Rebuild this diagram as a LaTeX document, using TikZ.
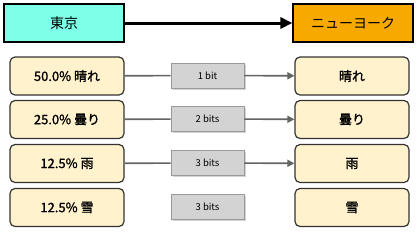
\documentclass[tikz,border=0pt]{standalone}
\usepackage{fontspec}
\setmainfont{Noto Sans CJK JP}
\newfontfamily\medfont{Noto Sans CJK JP}[FakeBold=1.2]
\usepackage{xcolor}
\usetikzlibrary{arrows.meta,positioning,shadows}
\definecolor{tokyocol}{RGB}{125,255,232}
\definecolor{nycol}{RGB}{248,169,0}
\definecolor{cream}{RGB}{255,242,204}
\definecolor{codegray}{RGB}{211,211,211}
\definecolor{linegray}{RGB}{100,100,100}

\begin{document}
\begin{tikzpicture}[
    x=1pt, y=-1pt,
    header/.style={rectangle, draw=black, line width=1.2pt, minimum width=120pt, minimum height=38pt, font=\fontsize{14}{16}\selectfont},
    weather/.style={rectangle, rounded corners=5pt, draw=black!80, fill=cream, line width=1.2pt, minimum width=114pt, minimum height=38pt, font=\medfont\fontsize{13}{15}\selectfont},
    code/.style={rectangle, draw=black!40, fill=codegray, line width=0.8pt, minimum width=73pt, minimum height=25pt, font=\fontsize{9.5}{11}\selectfont, drop shadow={shadow xshift=1.5pt, shadow yshift=-1.5pt, opacity=0.35}},
    link/.style={draw=linegray, line width=1.6pt},
    arrow/.style={-{Triangle[length=7pt, width=7pt]}, draw=linegray, fill=linegray, line width=1.6pt}
]
\useasboundingbox (0,0) rectangle (419,234);

% Header
\node[header, fill=tokyocol] (tokyo) at (64,23) {東京};
\node[header, fill=nycol] (newyork) at (353,23) {ニューヨーク};
\draw[-{Triangle[length=12pt, width=11pt]}, line width=3pt] (tokyo) -- (newyork);

% Rows
\node[weather] (srcsun) at (67,76) {50.0\% 晴れ};
\node[weather] (srccloud) at (67,119.5) {25.0\% 曇り};
\node[weather] (srcrain) at (67,163.5) {12.5\% 雨};
\node[weather] (srcsnow) at (67,207.5) {12.5\% 雪};

\node[code] (bitsun) at (207.5,75.5) {1 bit};
\node[code] (bitcloud) at (207.5,119) {2 bits};
\node[code] (bitrain) at (207.5,163) {3 bits};
\node[code] (bitsnow) at (207.5,207) {3 bits};

\node[weather] (dstsun) at (352,76) {晴れ};
\node[weather] (dstcloud) at (352,119.5) {曇り};
\node[weather] (dstrain) at (352,163.5) {雨};
\node[weather] (dstsnow) at (352,207.5) {雪};

% Connectors
\draw[link] (srcsun) -- (bitsun);
\draw[link] (srccloud) -- (bitcloud);
\draw[link] (srcrain) -- (bitrain);
\draw[arrow] (bitsun) -- (dstsun);
\draw[arrow] (bitcloud) -- (dstcloud);
\draw[arrow] (bitrain) -- (dstrain);

\end{tikzpicture}
\end{document}
